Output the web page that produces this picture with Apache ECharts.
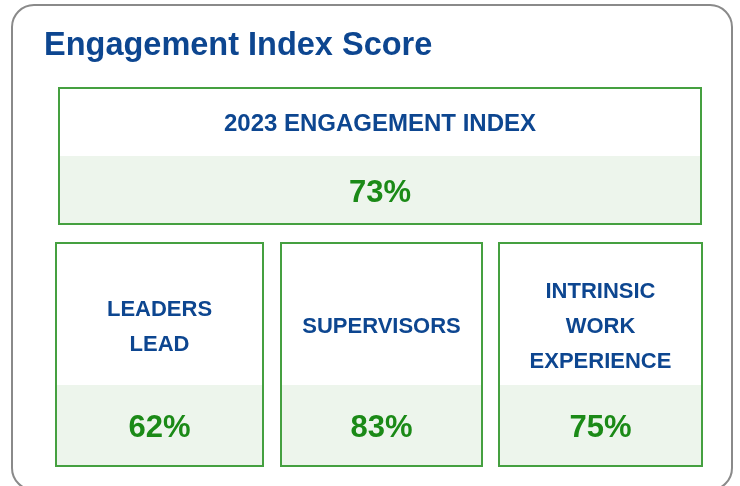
<!DOCTYPE html>
<html>
<head>
<meta charset="utf-8">
<script src="https://cdn.jsdelivr.net/npm/echarts@6/dist/echarts.min.js"></script>
<style>
  html, body { margin: 0; padding: 0; background: #fff; }
  #main { width: 740px; height: 486px; }
</style>
</head>
<body>
<div id="main"></div>
<script>
// 数据
const headline = '2023 ENGAGEMENT INDEX';
const headlineValue = 73;
const categories = ['LEADERS\nLEAD', 'SUPERVISORS', 'INTRINSIC\nWORK\nEXPERIENCE'];
const scores = [62, 83, 75];

const blue = '#0d4690';
const green = '#1b8a17';
const boxLine = '#45a040';
const band = '#edf5ec';
const font = '"Liberation Sans", Arial, sans-serif';

// 卡片布局 (labelY: 标签中心相对卡片顶部)
const topBox = { x: 59, y: 88, w: 642, h: 136, split: 68, labelY: 36 };
const cardBoxes = [
        { x: 56, y: 243, w: 207, h: 223, split: 142, labelY: 84 },
        { x: 281, y: 243, w: 201, h: 223, split: 142, labelY: 84 },
        { x: 499, y: 243, w: 203, h: 223, split: 142, labelY: 84 }
];

const card = (b, label, value, labelSize) => {
        return [{
                type: 'rect',
                shape: { x: b.x, y: b.y + b.split, width: b.w, height: b.h - b.split },
                style: { fill: band }
        }, {
                type: 'rect',
                shape: { x: b.x, y: b.y, width: b.w, height: b.h },
                style: { fill: 'none', stroke: boxLine, lineWidth: 2 }
        }, {
                type: 'text',
                x: b.x + b.w / 2,
                y: b.y + b.labelY,
                style: {
                        text: label,
                        fill: blue,
                        font: 'bold ' + labelSize + 'px ' + font,
                        lineHeight: 35,
                        align: 'center',
                        verticalAlign: 'middle'
                }
        }, {
                type: 'text',
                x: b.x + b.w / 2,
                y: b.y + b.split + (b.h - b.split) / 2 + 3,
                style: {
                        text: value + '%',
                        fill: green,
                        font: 'bold 31px ' + font,
                        align: 'center',
                        verticalAlign: 'middle'
                }
        }];
}

let elements = [{
        type: 'rect',
        shape: { x: 12, y: 5, width: 720, height: 485, r: 22 },
        style: { fill: '#fff', stroke: '#8a8a8a', lineWidth: 2 }
}, {
        type: 'text',
        x: 44,
        y: 46,
        style: {
                text: 'Engagement Index Score',
                fill: blue,
                font: 'bold 32.5px ' + font,
                verticalAlign: 'middle'
        }
}];
elements = elements.concat(card(topBox, headline, headlineValue, 24));
categories.forEach((c, i) => {
        elements = elements.concat(card(cardBoxes[i], c, scores[i], 22));
});

let option = {
        backgroundColor: '#fff',
        animation: false,
        graphic: { elements: elements }
};

let chart = echarts.init(document.getElementById('main'));
chart.setOption(option);
</script>
</body>
</html>
